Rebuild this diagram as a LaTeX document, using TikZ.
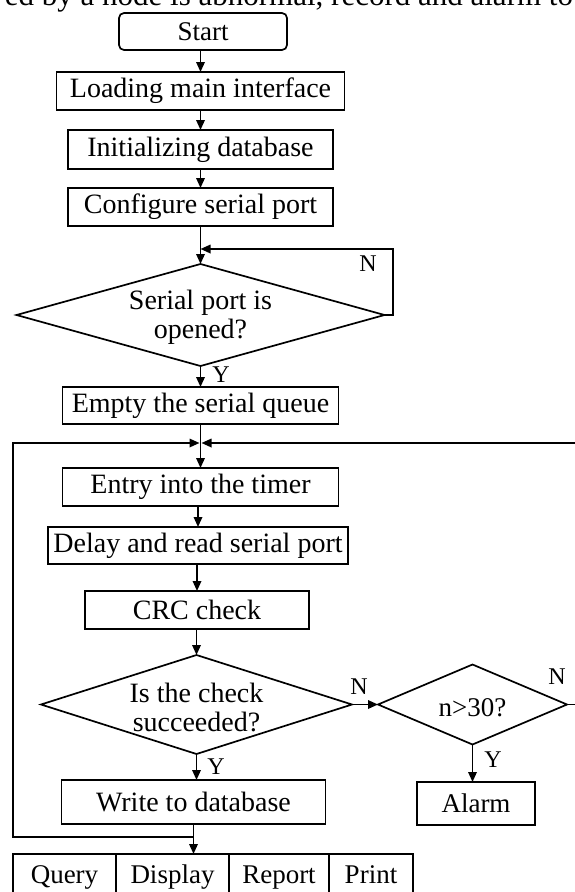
\documentclass[tikz,border=0pt]{standalone}
\usepackage{fontspec}
\setmainfont{Liberation Serif}
\usetikzlibrary{arrows.meta,shapes.geometric}
\begin{document}
\begin{tikzpicture}[x=1pt,y=-1pt,
  every node/.style={inner sep=0pt,outer sep=0pt},
  proc/.style={draw,line width=1.7pt,rectangle,font=\fontsize{28}{29}\selectfont},
  smallproc/.style={draw,line width=1.7pt,rectangle,font=\fontsize{27}{28}\selectfont},
  startbox/.style={draw,line width=1.7pt,rectangle,rounded corners=5pt,font=\fontsize{27}{28}\selectfont},
  dia/.style={draw,line width=1.7pt,diamond},
  diatext/.style={align=center,font=\fontsize{28}{29}\selectfont},
  smalltext/.style={font=\fontsize{27}{28}\selectfont},
  lab/.style={font=\fontsize{24}{24}\selectfont},
  cell/.style={draw,line width=1.7pt,rectangle,minimum height=44pt,text height=20pt,text depth=6pt,font=\fontsize{27}{28}\selectfont},
  arr/.style={draw,line width=1.7pt,-{Triangle[length=10pt,width=8.5pt]}},
]
\useasboundingbox (0,0) rectangle (574,892);
\begin{scope}
\clip (0,0) rectangle (574,892);
\node[anchor=base east,font=\fontsize{31}{31}\selectfont] (toptext) at (573,5) {ed by a node is abnormal, record and alarm to};
\end{scope}

% main chain
\node[startbox,minimum width=168pt,minimum height=37pt] (start) at (203,31.5) {Start};
\node[proc,minimum width=288pt,minimum height=38pt] (load) at (200.5,91) {Loading main interface};
\node[proc,minimum width=265pt,minimum height=39pt] (init) at (200.5,149.5) {Initializing database};
\node[proc,minimum width=265pt,minimum height=38pt] (conf) at (200.5,207) {Configure serial port};
\node[dia,minimum width=368pt,minimum height=102pt] (d1) at (200.5,315) {};
\node[diatext] (d1t) at (200.5,317) {Serial port is\\opened?};
\node[proc,minimum width=276pt,minimum height=37pt] (empty) at (200.5,405.5) {Empty the serial queue};
\node[proc,minimum width=276pt,minimum height=38pt] (entry) at (200.5,487) {Entry into the timer};
\node[proc,minimum width=300pt,minimum height=37pt] (delay) at (198,545.5) {Delay and read serial port};
\node[proc,minimum width=224pt,minimum height=38pt] (crc) at (197,610) {CRC check};
\node[dia,minimum width=311pt,minimum height=99pt] (d2) at (196.5,704.5) {};
\node[diatext] (d2t) at (196.5,707) {Is the check\\succeeded?};
\node[dia,minimum width=189pt,minimum height=80pt] (d3) at (472.5,704.5) {};
\node[smalltext] (d3t) at (472.5,708) {n>30?};
\node[proc,minimum width=264pt,minimum height=44pt] (write) at (193.5,802) {Write to database};
\node[smallproc,minimum width=118pt,minimum height=43pt] (alarm) at (476,803.5) {Alarm};

% table
\node[cell,minimum width=103pt] (query) at (64.5,876) {Query};
\node[cell,minimum width=113pt] (disp) at (172.5,876) {Display};
\node[cell,minimum width=100pt] (rep) at (279,876) {Report};
\node[cell,minimum width=84pt] (print) at (371,876) {Print};

% labels
\node[lab] (ln1) at (368,264) {N};
\node[lab] (ly1) at (221,375) {Y};
\node[lab] (ln2) at (359,687) {N};
\node[lab] (ly2) at (216,767) {Y};
\node[lab] (ly3) at (493,760) {Y};
\node[lab] (ln3) at (557,677) {N};

% coordinates
\coordinate (c1r) at (393,249);
\coordinate (c1l) at (200.5,249);
\coordinate (jt) at (200.5,443);
\coordinate (jw) at (193.5,837);
\coordinate (lb) at (12.8,837);
\coordinate (lt) at (12.8,443);
\coordinate (rr) at (584,704.5);
\coordinate (rt) at (584,443);

% connectors
\draw[arr] (start.south -| load.north) -- (load.north);
\draw[arr] (load.south) -- (init.north);
\draw[arr] (init.south) -- (conf.north);
\draw[arr] (conf.south) -- (d1.north);
\draw[arr] (d1.east) -| (c1r) -- (c1l);
\draw[arr] (d1.south) -- (empty.north);
\draw[arr] (empty.south) -- (entry.north);
\draw[arr,shorten >=1pt] (jw) -- (lb) -- (lt) -- (jt);
\draw[arr,shorten >=1pt] (d3.east) -- (rr) -- (rt) -- (jt);
\draw[arr] (entry.south -| delay.north) -- (delay.north);
\draw[arr] (delay.south -| crc.north) -- (crc.north);
\draw[arr] (crc.south -| d2.north) -- (d2.north);
\draw[arr] (d2.south) -- (d2.south |- write.north);
\draw[arr] (d2.east) -- (d3.west);
\draw[arr] (d3.south) -- (d3.south |- alarm.north);
\draw[arr] (write.south) -- (write.south |- disp.north);
\end{tikzpicture}
\end{document}
